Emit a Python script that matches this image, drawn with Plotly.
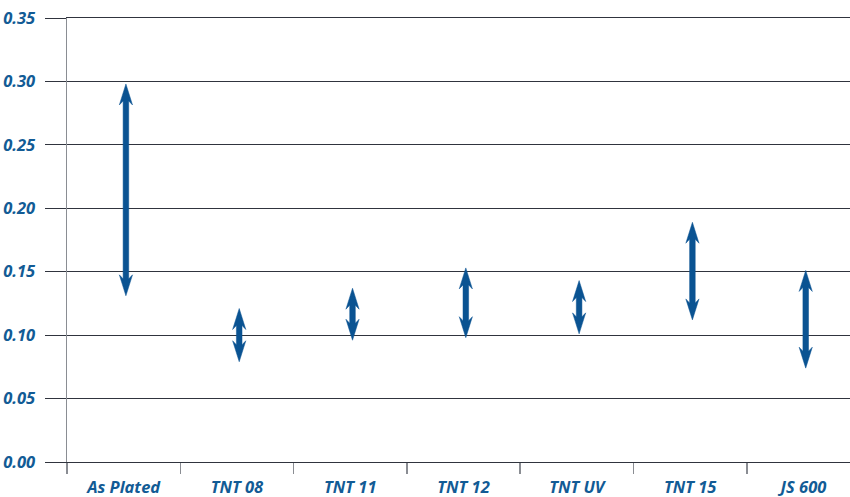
import plotly.graph_objects as go

categories = ["As Plated", "TNT 08", "TNT 11", "TNT 12", "TNT UV", "TNT 15", "JS 600"]
range_high = [0.298, 0.121, 0.137, 0.153, 0.143, 0.189, 0.151]
range_low = [0.131, 0.079, 0.096, 0.098, 0.101, 0.112, 0.074]
y_ticks = [0.00, 0.05, 0.10, 0.15, 0.20, 0.25, 0.30, 0.35]
y_tick_labels = ["0.00", "0.05", "0.10", "0.15", "0.20", "0.25", "0.30", "0.35"]

W, H = 850, 497
ML, MR, MT, MB = 67, 0, 18, 35
cat_px = 113.3
plot_w = W - ML - MR
plot_h = H - MT - MB
y_max = 0.35
x_range = [-0.5, -0.5 + plot_w / cat_px]

px_x = cat_px          # pixels per category unit
px_y = plot_h / y_max  # pixels per value unit

ARROW = "#0a5392"
TEXT = "#125b95"
GRID = "#30343e"
AXIS = "#8a8d93"

# arrow geometry (pixels)
shaft_hw = 2.8
head_hw = 6.6
head_len = 21
notch = 4
x_shift = 0.02

fig = go.Figure()
for i, (hi, lo) in enumerate(zip(range_high, range_low)):
    c = i + x_shift
    sw = shaft_hw / px_x
    hw = head_hw / px_x
    hl = head_len / px_y
    nt = notch / px_y
    xs = [c, c + hw, c + sw, c + sw, c + hw, c, c - hw, c - sw, c - sw, c - hw, c]
    ys = [hi, hi - hl, hi - hl + nt, lo + hl - nt, lo + hl, lo, lo + hl, lo + hl - nt,
          hi - hl + nt, hi - hl, hi]
    fig.add_trace(go.Scatter(
        x=xs, y=ys, mode="lines", fill="toself", fillcolor=ARROW,
        line=dict(color=ARROW, width=0.5), hoverinfo="skip", showlegend=False,
    ))

label_font = dict(family="Open Sans", size=16.5, color=TEXT, weight="bold", style="italic")

fig.update_layout(
    width=W, height=H,
    margin=dict(l=ML, r=MR, t=MT, b=MB, pad=0),
    paper_bgcolor="white", plot_bgcolor="white",
    showlegend=False,
    xaxis=dict(
        range=x_range, tickmode="array",
        tickvals=list(range(len(categories))), ticktext=categories,
        ticks="", showgrid=False, zeroline=False,
        showline=True, mirror=True, linecolor=GRID, linewidth=1,
        tickfont=label_font, ticklabelstandoff=10, automargin=False,
        minor=dict(tick0=-0.5, dtick=1, ticks="outside", ticklen=11,
                   tickcolor=AXIS, tickwidth=1.5, showgrid=False),
        fixedrange=True,
    ),
    yaxis=dict(
        range=[0, y_max], tickmode="array", tickvals=y_ticks, ticktext=y_tick_labels,
        showgrid=True, gridcolor=GRID, gridwidth=1,
        ticks="outside", ticklen=21, tickcolor=GRID, tickwidth=1,
        zeroline=False, showline=True, linecolor=AXIS, linewidth=1.5,
        tickfont=label_font, ticklabelstandoff=6, automargin=False,
        fixedrange=True,
    ),
)

fig.write_html(
    "out.html",
    config={"displayModeBar": False, "staticPlot": True},
    post_script="document.body.style.margin='0';document.body.style.overflow='hidden';",
)
